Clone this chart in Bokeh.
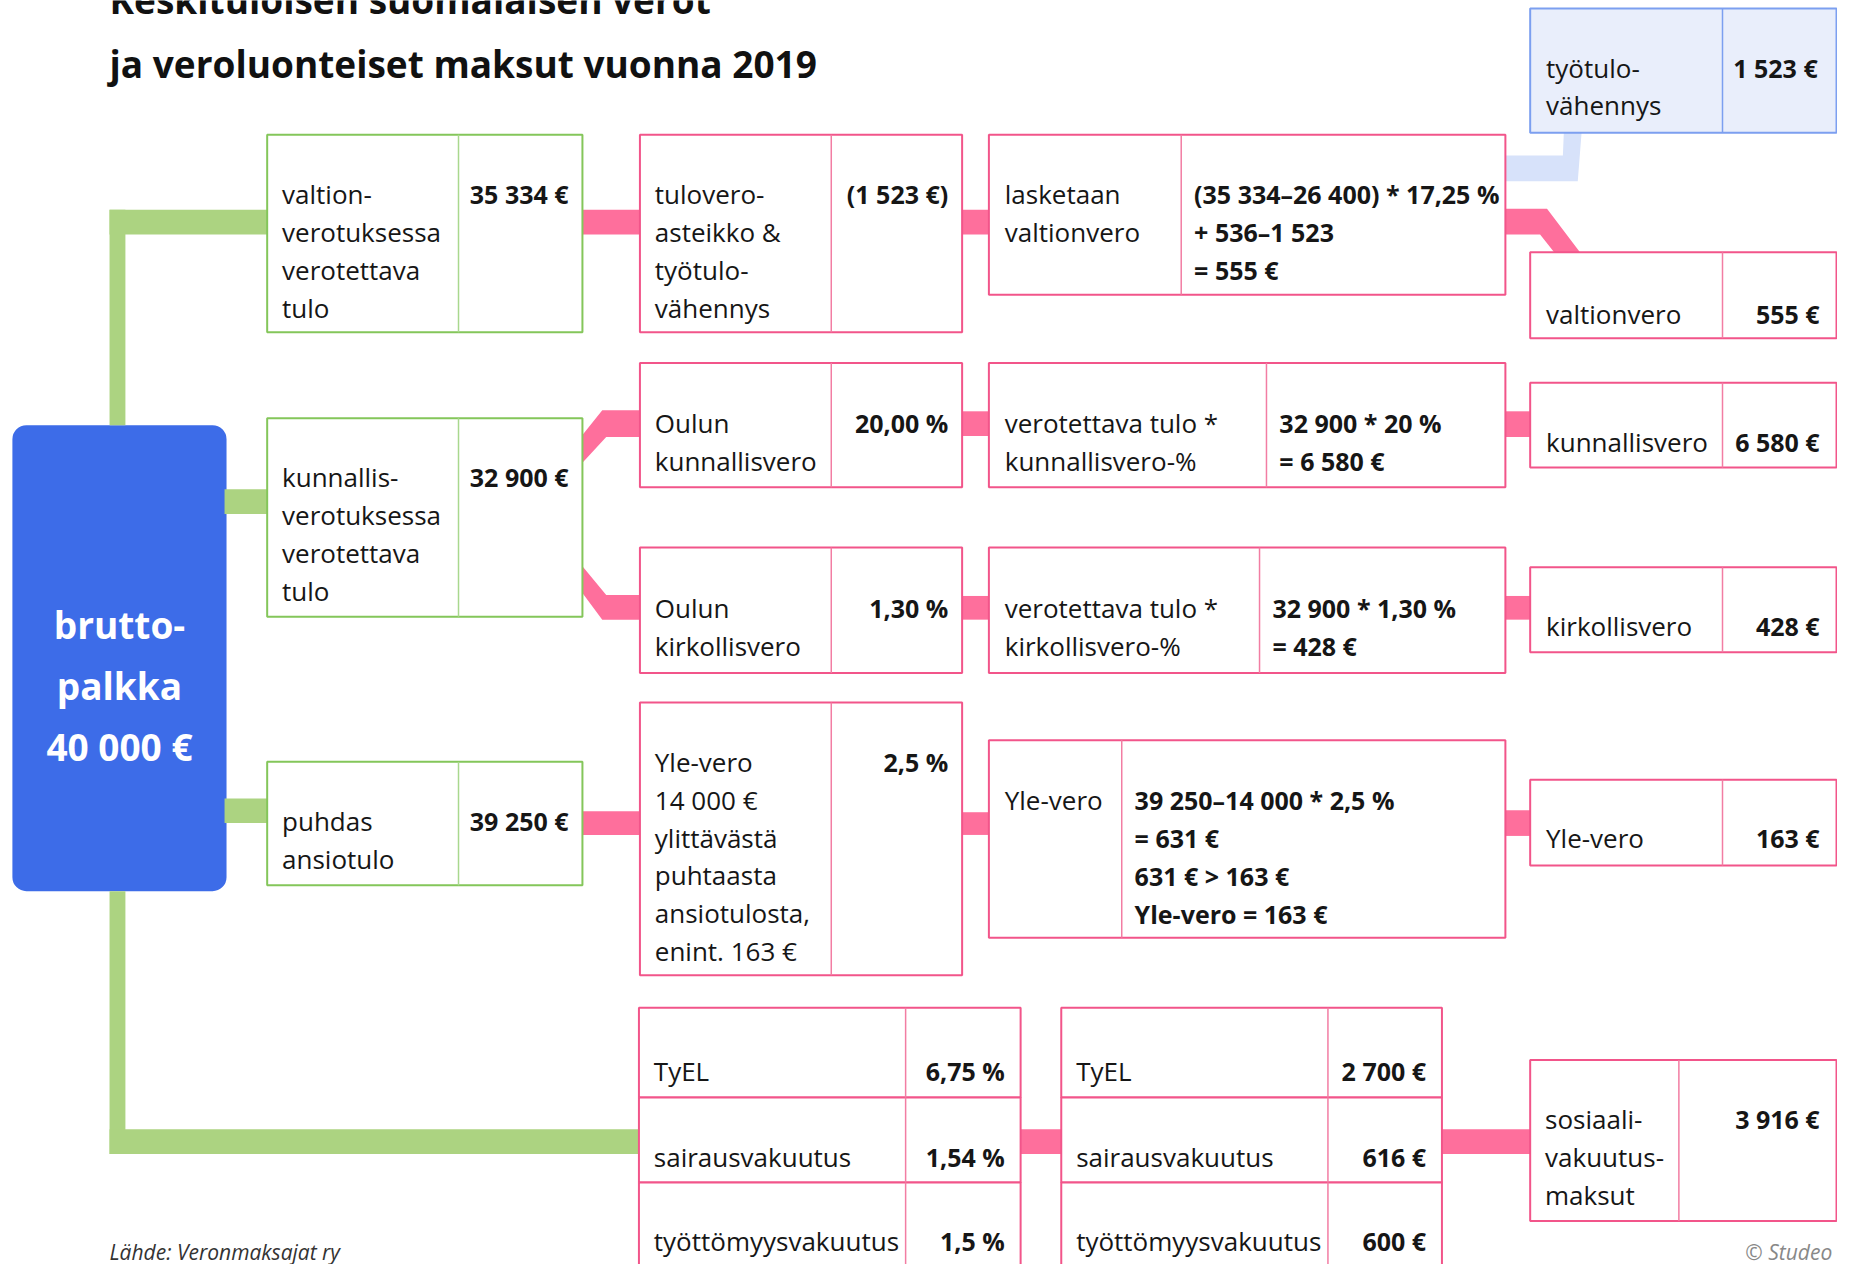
from bokeh.plotting import figure
from bokeh.models import ColumnDataSource, Range1d, BoxAnnotation
from bokeh.embed import file_html
from bokeh.resources import INLINE
from bokeh.core.properties import value

# ---------------- data (texts and values) ----------------
title_lines = ["Keskituloisen suomalaisen verot", "ja veroluonteiset maksut vuonna 2019"]
gross_lines = ["brutto-", "palkka", "40 000 €"]

income_labels = [["valtion-", "verotuksessa", "verotettava", "tulo"],
                 ["kunnallis-", "verotuksessa", "verotettava", "tulo"],
                 ["puhdas", "ansiotulo"]]
income_values = ["35 334 €", "32 900 €", "39 250 €"]

rate_labels = [["tulovero-", "asteikko &", "työtulo-", "vähennys"],
               ["Oulun", "kunnallisvero"],
               ["Oulun", "kirkollisvero"],
               ["Yle-vero", "14 000 €", "ylittävästä", "puhtaasta", "ansiotulosta,", "enint. 163 €"]]
rate_values = ["(1 523 €)", "20,00 %", "1,30 %", "2,5 %"]

calc_labels = [["lasketaan", "valtionvero"],
               ["verotettava tulo *", "kunnallisvero-%"],
               ["verotettava tulo *", "kirkollisvero-%"],
               ["Yle-vero"]]
calc_formulas = [["(35 334–26 400) * 17,25 %", "+ 536–1 523", "= 555 €"],
                 ["32 900 * 20 %", "= 6 580 €"],
                 ["32 900 * 1,30 %", "= 428 €"],
                 ["39 250–14 000 * 2,5 %", "= 631 €", "631 € > 163 €", "Yle-vero = 163 €"]]

tax_labels = ["valtionvero", "kunnallisvero", "kirkollisvero", "Yle-vero"]
tax_values = ["555 €", "6 580 €", "428 €", "163 €"]

deduction_label = ["työtulo-", "vähennys"]
deduction_value = "1 523 €"

insurance_names = ["TyEL", "sairausvakuutus", "työttömyysvakuutus"]
insurance_rates = ["6,75 %", "1,54 %", "1,5 %"]
insurance_amounts = ["2 700 €", "616 €", "600 €"]

social_label = ["sosiaali-", "vakuutus-", "maksut"]
social_value = "3 916 €"

source_text = "Lähde: Veronmaksajat ry"
credit_text = "© Studeo"

# ---------------- styles ----------------
FONT = "Open Sans"
TXT = "#161616"
PINK_LINE = "#f2558a"
PINK_DIV = "#f27da3"
PINK_CONN = "#fe6f9c"
GREEN_LINE = "#84c65a"
GREEN_DIV = "#a9d88e"
GREEN_CONN = "#acd381"
BLUE = "#3d6ce8"
LBLUE_FILL = "#e9eefb"
LBLUE_LINE = "#7c9ff0"
LBLUE_CONN = "#d7e2fa"
LH = 38.3      # line spacing
SHIFT = -2     # small baseline correction
FS_REG = "26px"
FS_BOLD = "25px"

# ---------------- layout ----------------
# boxes: (left, right, top, bottom, divider_x, first_baseline)
A_box = [(269, 587, 136, 336, 462, 198), (269, 587, 423, 624, 462, 485), (269, 587, 771, 896, 462, 833)]
B_box = [(645, 970, 136, 336, 838, 198), (645, 970, 367, 493, 838, 430),
         (645, 970, 554, 681, 838, 617), (645, 970, 711, 987, 838, 773)]
C_box = [(997, 1518, 136, 298, 1191, 198), (997, 1518, 367, 493, 1277, 430),
         (997, 1518, 554, 681, 1270, 617), (997, 1518, 749, 949, 1131, 812)]
D_box = [(1543, 1852, 255, 342, 1737, 319), (1543, 1852, 387, 473, 1737, 449),
         (1543, 1852, 574, 660, 1737, 635), (1543, 1852, 789, 876, 1737, 850)]
T_box = (1543, 1852, 8, 134, 1737, 70)
E_tab = (644, 1029, 913)
F_tab = (1070, 1454, 1339)
row_tops = [1020, 1111, 1197]
row_bots = [1111, 1197, 1300]
row_base = [1086, 1173, 1258]
G_box = (1543, 1852, 1073, 1236, 1693, 1135)

p = figure(width=1837, height=1264, x_range=Range1d(0, 1853), y_range=Range1d(1280, 0),
           output_backend="svg", toolbar_location=None, min_border=0,
           x_axis_location=None, y_axis_location=None,
           background_fill_color="white", border_fill_color="white",
           outline_line_color=None)
p.grid.visible = False

# ---------------- connectors ----------------
def rects(lst, color):
    src = ColumnDataSource(dict(l=[r[0] for r in lst], r=[r[1] for r in lst],
                                t=[r[2] for r in lst], b=[r[3] for r in lst]))
    p.quad(left="l", right="r", top="t", bottom="b", source=src,
           fill_color=color, line_color=None)

green_rects = [(110, 126, 212, 430), (110, 272, 212, 237), (226, 272, 495, 520),
               (226, 272, 808, 833), (110, 126, 902, 1168), (110, 647, 1143, 1168)]
pink_rects = [(585, 647, 212, 237), (968, 999, 212, 237),
              (968, 999, 416, 441), (1516, 1545, 416, 442),
              (968, 999, 603, 627), (1516, 1545, 603, 627),
              (585, 647, 821, 845), (968, 999, 822, 845), (1516, 1545, 820, 846),
              (1027, 1072, 1143, 1168), (1452, 1545, 1143, 1168)]
rects(green_rects, GREEN_CONN)
rects(pink_rects, PINK_CONN)

pink_polys = [
    ([1516, 1560, 1594, 1568, 1553, 1516], [211, 211, 256, 256, 237, 237]),
    ([587, 611, 647, 647, 607, 587], [468, 442, 442, 415, 415, 440]),
    ([587, 611, 647, 647, 607, 587], [573, 602, 602, 627, 627, 600]),
]
p.patches(xs=[q[0] for q in pink_polys], ys=[q[1] for q in pink_polys],
          fill_color=PINK_CONN, line_color=None)
p.patch([1577, 1595, 1591, 1516, 1516, 1576], [132, 132, 183, 183, 157, 157],
        fill_color=LBLUE_CONN, line_color=None)

# ---------------- blue gross-salary box ----------------
p.add_layout(BoxAnnotation(left=12, right=228, top=430, bottom=902, fill_color=BLUE,
                           fill_alpha=1.0, line_color=None, border_radius=14,
                           level="underlay"))

# ---------------- boxes ----------------
bl, br, bt, bb, bfill, bline = [], [], [], [], [], []
dx, dy0, dy1, dcol = [], [], [], []

def box(l, r, t, b, div, line, fill, divcol):
    bl.append(l); br.append(r); bt.append(t); bb.append(b)
    bline.append(line); bfill.append(fill)
    dx.append(div); dy0.append(t); dy1.append(b); dcol.append(divcol)

for bx in A_box:
    box(bx[0], bx[1], bx[2], bx[3], bx[4], GREEN_LINE, "white", GREEN_DIV)
for grp in (B_box, C_box, D_box):
    for bx in grp:
        box(bx[0], bx[1], bx[2], bx[3], bx[4], PINK_LINE, "white", PINK_DIV)
box(T_box[0], T_box[1], T_box[2], T_box[3], T_box[4], LBLUE_LINE, LBLUE_FILL, LBLUE_LINE)
for tab in (E_tab, F_tab):
    for t, b in zip(row_tops, row_bots):
        box(tab[0], tab[1], t, b, tab[2], PINK_LINE, "white", PINK_DIV)
box(G_box[0], G_box[1], G_box[2], G_box[3], G_box[4], PINK_LINE, "white", PINK_DIV)

p.quad(left="l", right="r", top="t", bottom="b",
       source=ColumnDataSource(dict(l=bl, r=br, t=bt, b=bb, f=bfill, c=bline)),
       fill_color="f", line_color="c", line_width=2)
p.segment(x0="x", y0="a", x1="x", y1="b",
          source=ColumnDataSource(dict(x=dx, a=dy0, b=dy1, c=dcol)),
          line_color="c", line_width=1.5)

# ---------------- texts ----------------
reg = dict(x=[], y=[], text=[])      # regular, left
bold_r = dict(x=[], y=[], text=[])   # bold, right
bold_l = dict(x=[], y=[], text=[])   # bold, left

def lines(store, x, y0, items):
    for i, s in enumerate(items):
        store["x"].append(x); store["y"].append(y0 + SHIFT + i * LH); store["text"].append(s)

for bx, lab, val in zip(A_box, income_labels, income_values):
    lines(reg, bx[0] + 15, bx[5], lab)
    lines(bold_r, bx[1] - 14, bx[5], [val])
for bx, lab, val in zip(B_box, rate_labels, rate_values):
    lines(reg, bx[0] + 15, bx[5], lab)
    lines(bold_r, bx[1] - 14, bx[5], [val])
for bx, lab, frm in zip(C_box, calc_labels, calc_formulas):
    lines(reg, bx[0] + 16, bx[5], lab)
    lines(bold_l, bx[4] + 13, bx[5], frm)
for bx, lab, val in zip(D_box, tax_labels, tax_values):
    lines(reg, bx[0] + 16, bx[5], [lab])
    lines(bold_r, bx[1] - 17, bx[5], [val])
lines(reg, T_box[0] + 16, T_box[5], deduction_label)
lines(bold_r, T_box[1] - 19, T_box[5], [deduction_value])
for i in range(3):
    lines(reg, E_tab[0] + 15, row_base[i], [insurance_names[i]])
    lines(bold_r, E_tab[1] - 16, row_base[i], [insurance_rates[i]])
    lines(reg, F_tab[0] + 15, row_base[i], [insurance_names[i]])
    lines(bold_r, F_tab[1] - 16, row_base[i], [insurance_amounts[i]])
lines(reg, G_box[0] + 15, G_box[5], social_label)
lines(bold_r, G_box[1] - 17, G_box[5], [social_value])

common = dict(text_font=value(FONT), text_baseline="alphabetic", text_color=TXT)
p.text(x="x", y="y", text="text", source=ColumnDataSource(reg), text_align="left",
       text_font_size=value(FS_REG), **common)
p.text(x="x", y="y", text="text", source=ColumnDataSource(bold_r), text_align="right",
       text_font_size=value(FS_BOLD), text_font_style="bold", **common)
p.text(x="x", y="y", text="text", source=ColumnDataSource(bold_l), text_align="left",
       text_font_size=value(FS_BOLD), text_font_style="bold", **common)

# gross salary text
p.text(x=[120, 120, 120], y=[632, 694, 755], text=gross_lines, text_font=value(FONT),
       text_font_size=value("37px"), text_font_style="bold", text_color="white",
       text_align="center", text_baseline="alphabetic")

# title
p.text(x=[110, 110], y=[-1, 64], text=title_lines, text_font=value(FONT),
       text_font_size=value("37px"), text_font_style="bold", text_color="#111111",
       text_align="left", text_baseline="alphabetic")

# footer
p.text(x=[110], y=[1267], text=[source_text], text_font=value(FONT),
       text_font_size=value("21px"), text_font_style="italic", text_color="#333333",
       text_align="left", text_baseline="alphabetic")
p.text(x=[1760], y=[1267], text=[credit_text], text_font=value(FONT),
       text_font_size=value("21px"), text_font_style="italic", text_color="#888888",
       text_align="left", text_baseline="alphabetic")

open("out.html", "w").write(file_html(p, INLINE))
